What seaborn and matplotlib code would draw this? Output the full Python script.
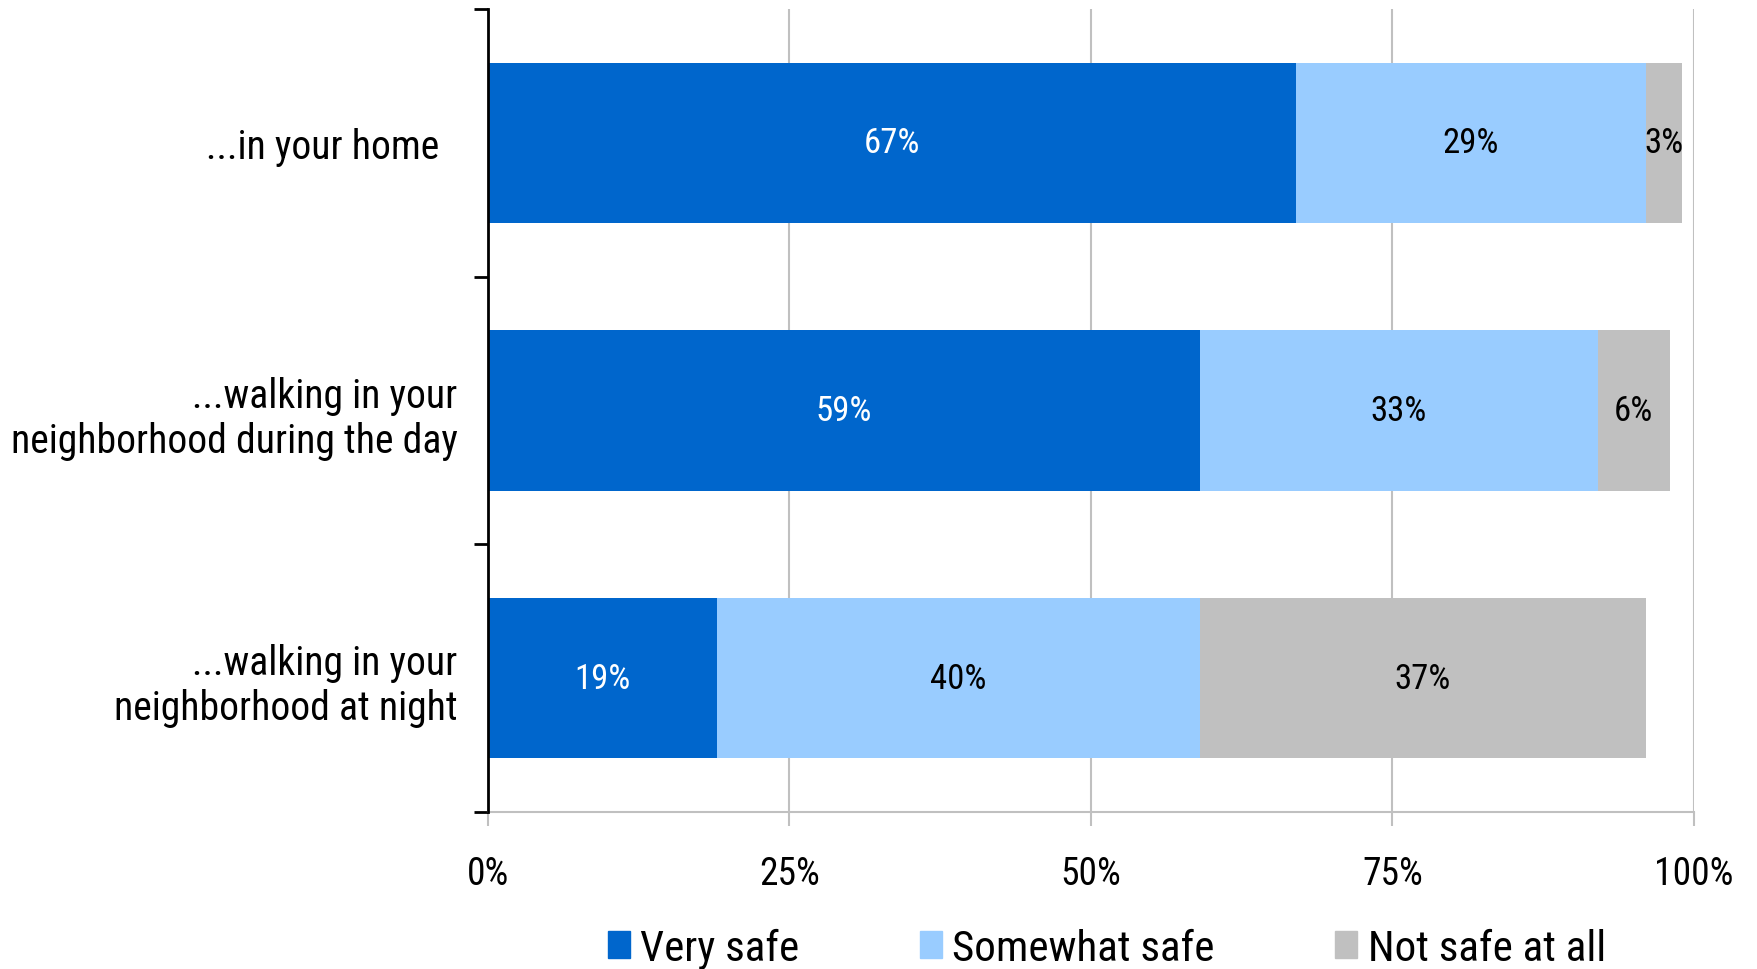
import matplotlib
matplotlib.use("Agg")
import matplotlib.pyplot as plt
import matplotlib.patches as mpatches
from matplotlib import font_manager
import seaborn as sns
import numpy as np
import pandas as pd

# data
questions = ["...in your home  ",
             "...walking in your\nneighborhood during the day",
             "...walking in your\nneighborhood at night"]
very_safe = [67, 59, 19]
somewhat_safe = [29, 33, 40]
not_safe = [3, 6, 37]
series_names = ["Very safe", "Somewhat safe", "Not safe at all"]
series_colors = ["#0066CC", "#99CCFF", "#C0C0C0"]
label_colors = ["white", "black", "black"]
x_ticks = [0, 25, 50, 75, 100]

installed = {f.name for f in font_manager.fontManager.ttflist}
narrow = [n for n in ["Liberation Sans Narrow", "Roboto Condensed", "Open Sans Condensed",
                      "DejaVu Sans Condensed"] if n in installed]
main_font = narrow[0] if narrow else "Roboto"

sns.set_theme(style="white")
plt.rcParams['font.family'] = [main_font, 'DejaVu Sans']
plt.rcParams['text.color'] = 'black'
plt.rcParams['xtick.color'] = 'black'
plt.rcParams['ytick.color'] = 'black'

df = pd.DataFrame({"question": questions,
                   "Very safe": very_safe,
                   "Somewhat safe": somewhat_safe,
                   "Not safe at all": not_safe})

fig = plt.figure(figsize=(17.58, 9.70), dpi=100)
ax = fig.add_axes([488 / 1758, 1 - 813 / 970, (1694 - 488) / 1758, (813 - 10) / 970])

# stacked bars: draw cumulative totals from the largest down
cum = df[series_names].cumsum(axis=1)
for name, color in reversed(list(zip(series_names, series_colors))):
    sns.barplot(x=cum[name], y=df["question"], color=color, orient="h",
                width=0.6, saturation=1, ax=ax, zorder=3, linewidth=0)

# segment labels
for i in range(len(df)):
    left = 0
    for name, tc in zip(series_names, label_colors):
        v = df.loc[i, name]
        ax.text(left + v / 2, i, f"{v}%", ha="center", va="center",
                color=tc, fontsize=25, zorder=4)
        left += v

ax.set_xlim(0, 100)
ax.set_ylim(2.5, -0.5)
ax.set_xticks(x_ticks)
ax.set_xticklabels([f"{t}%" for t in x_ticks])
ax.set_xlabel("")
ax.set_ylabel("")
ax.grid(axis="x", color="#C0C0C0", linewidth=1.5, zorder=0)
ax.set_axisbelow(True)

for s in ["top", "right"]:
    ax.spines[s].set_visible(False)
ax.spines["left"].set_color("black")
ax.spines["left"].set_linewidth(2)
ax.spines["left"].set_zorder(5)
ax.spines["bottom"].set_color("#C0C0C0")
ax.spines["bottom"].set_linewidth(1.5)

ax.tick_params(axis="x", which="major", direction="out", length=10, width=1.5,
               color="#C0C0C0", labelcolor="black", labelsize=27, pad=21, bottom=True)
ax.tick_params(axis="y", which="major", length=0, labelsize=28.5, labelcolor="black", pad=22)
ax.set_yticks([-0.5, 0.5, 1.5, 2.5], minor=True)
ax.tick_params(axis="y", which="minor", direction="out", length=10, width=2,
               color="black", left=True)
for lab in ax.get_yticklabels():
    lab.set_multialignment("right")
    lab.set_linespacing(1.2)

handles = [mpatches.Patch(color=c, label=n) for n, c in zip(series_names, series_colors)]
fig.legend(handles=handles, loc="center", bbox_to_anchor=(1107 / 1758, 1 - 949 / 970),
           ncol=3, frameon=False, fontsize=31, handlelength=0.5, handleheight=0.6,
           handletextpad=0.25, columnspacing=2.8, borderaxespad=0)

fig.savefig("out.png", dpi=100)
